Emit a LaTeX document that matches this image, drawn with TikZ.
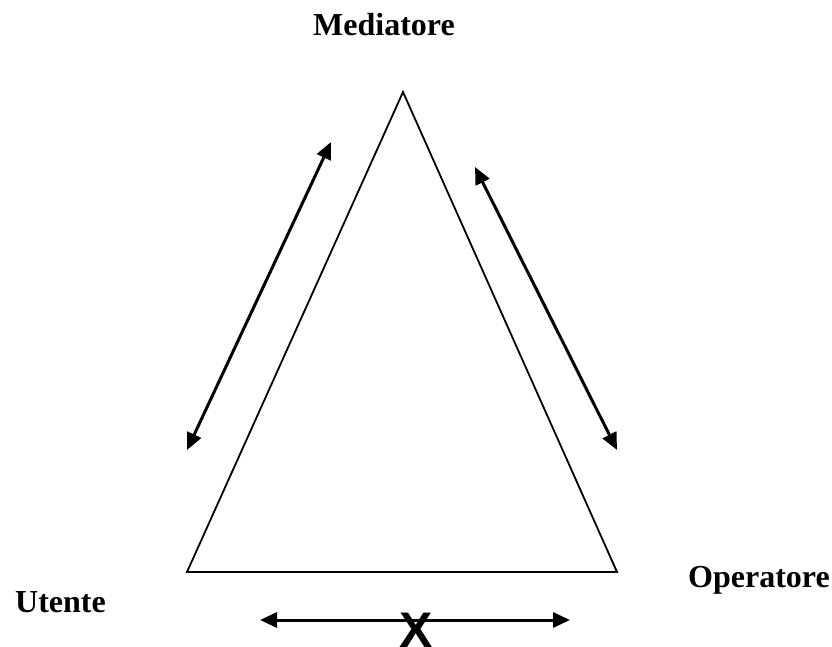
\documentclass[tikz,border=0pt]{standalone}
\usepackage{fontspec}
\setmainfont{Liberation Serif}
\newfontfamily\arialfont{Liberation Sans}
\usetikzlibrary{arrows.meta, positioning}

\begin{document}
\begin{tikzpicture}[x=1pt,y=-1pt,line cap=round,
    lato/.style={line width=1.8pt},
    freccia/.style={line width=3pt, {Triangle[length=17pt,width=15pt]}-{Triangle[length=17pt,width=15pt]}},
    etichetta/.style={font=\fontsize{32}{36}\selectfont\bfseries, inner sep=0pt}]
        \useasboundingbox (0,0) rectangle (832,647);
		%vertici del triangolo
		\coordinate (med) at (403,92);
		\coordinate (ute) at (187,572);
		\coordinate (ope) at (617,572);
		\draw[lato] (med) -- (ute) -- (ope) -- cycle;
        %etichette
		\node[etichetta, anchor=base] (lmed) at (384,36) {Mediatore};
		\node[etichetta, anchor=base west] (lute) at (15,612) {Utente};
		\node[etichetta, anchor=base west] (lope) at (688,587) {Operatore};
		% frecce laterali
		\coordinate (a1) at (331,142);
		\coordinate (a2) at (187,450);
		\draw[freccia] (a1) -- (a2);
		\coordinate (b1) at (475,167);
		\coordinate (b2) at (617,450);
		\draw[freccia] (b1) -- (b2);
        % freccia in basso con la X
		\coordinate (c1) at (260,620);
		\coordinate (c2) at (570,620);
		\draw[freccia] (c1) -- (c2);
		\node[inner sep=0pt, font=\arialfont\fontsize{50}{50}\selectfont\bfseries, anchor=base] (ics) at (416,647) {X};
	\end{tikzpicture}
\end{document}
